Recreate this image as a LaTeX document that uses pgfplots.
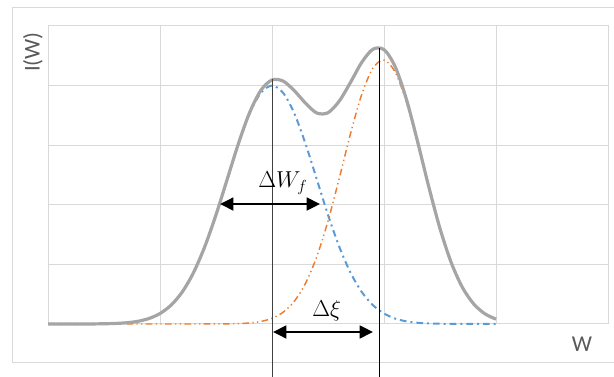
\documentclass[border=0pt]{standalone}
\usepackage{fontspec}
\setmainfont{Carlito}
\usepackage{pgfplots}
\pgfplotsset{compat=1.18}
\usetikzlibrary{arrows.meta}
\definecolor{gridgrey}{HTML}{D9D9D9}
\definecolor{txtgrey}{HTML}{595959}
\definecolor{curvegrey}{HTML}{A5A5A5}
\definecolor{xlblue}{HTML}{5B9BD5}
\definecolor{xlorange}{HTML}{ED7D31}
\begin{document}
\begin{tikzpicture}
\begin{axis}[
  scale only axis, width=420pt, height=223.5pt,
  xmin=0, xmax=5, ymin=0, ymax=5,
  xtick={0,1,2,3,4,5}, ytick={0,1,2,3,4,5},
  xticklabels={}, yticklabels={},
  major tick length=0pt,
  grid=major,
  grid style={gridgrey, line width=0.75pt},
  axis line style={gridgrey, line width=0.75pt},
  clip=false,
]
% outer chart frame
\draw[gridgrey, line width=0.75pt] (axis cs:5.0536,5.31) -- (axis cs:-0.3214,5.31) -- (axis cs:-0.3214,-0.646) -- (axis cs:5.0536,-0.646);
\coordinate (bbl) at (axis cs:-0.4286,-0.8893);
\coordinate (btr) at (axis cs:5.0536,5.4362);

% blue component
\addplot[xlblue, line width=1.5pt, smooth, dash pattern=on 5pt off 3pt on 1.5pt off 3pt] coordinates {
(0.0,0) (0.3,0.0005) (0.4,0.001) (0.5,0.004) (0.6,0.009) (0.7,0.020) (0.8,0.044) (0.9,0.091)
(1.0,0.176) (1.1,0.318) (1.2,0.541) (1.3,0.865) (1.4,1.299) (1.5,1.831) (1.6,2.426) (1.7,3.019)
(1.8,3.530) (1.9,3.877) (2.0,4.000) (2.1,3.877) (2.2,3.530) (2.3,3.019) (2.4,2.426) (2.5,1.831)
(2.6,1.299) (2.7,0.865) (2.8,0.541) (2.9,0.318) (3.0,0.176) (3.1,0.091) (3.2,0.044) (3.3,0.020)
(3.4,0.009) (3.5,0.004) (3.6,0.001) (3.7,0) (3.8,0) (3.9,0) (4.0,0)
};
% orange component
\addplot[xlorange, line width=1.1pt, smooth, dash pattern=on 5pt off 2.5pt on 1pt off 2.5pt on 1pt off 2.5pt] coordinates {
(0.7,0) (0.9,0) (1.1,0) (1.3,0) (1.5,0.0007) (1.6,0.002) (1.7,0.0065) (1.8,0.017) (1.9,0.042)
(2.0,0.095) (2.1,0.198) (2.2,0.383) (2.3,0.685) (2.4,1.131) (2.5,1.728) (2.6,2.440) (2.7,3.186)
(2.8,3.845) (2.9,4.291) (3.0,4.428) (3.1,4.225) (3.2,3.727) (3.3,3.039) (3.4,2.292) (3.5,1.597)
(3.6,1.030) (3.7,0.614) (3.8,0.338) (3.9,0.172) (4.0,0.081)
};
% total
\addplot[curvegrey, line width=2.4pt, smooth] coordinates {
(0.0,0) (0.1,0) (0.2,0) (0.3,0.0005) (0.4,0.001) (0.5,0.004) (0.6,0.009) (0.7,0.020) (0.8,0.044)
(0.9,0.091) (1.0,0.176) (1.1,0.318) (1.2,0.541) (1.3,0.865) (1.4,1.299) (1.5,1.832) (1.6,2.428)
(1.7,3.026) (1.8,3.547) (1.9,3.919) (2.0,4.095) (2.1,4.075) (2.2,3.913) (2.3,3.704) (2.4,3.540)
(2.5,3.545) (2.6,3.739) (2.7,4.051) (2.8,4.386) (2.9,4.609) (3.0,4.604) (3.1,4.316) (3.2,3.771)
(3.3,3.059) (3.4,2.301) (3.5,1.601) (3.6,1.031) (3.7,0.614) (3.8,0.338) (3.9,0.172) (4.0,0.081)
};
% vertical markers
\draw[black!75, line width=0.75pt] (axis cs:2.0,4.11) -- (axis cs:2.0,-0.8893);
\draw[black, line width=0.75pt] (axis cs:2.964,4.63) -- (axis cs:2.964,-0.8893);
% arrows
\draw[{Triangle[length=10pt,width=9.5pt]}-{Triangle[length=10pt,width=9.5pt]}, line width=2pt, black] (axis cs:1.536,2.013) -- (axis cs:2.429,2.013);
\draw[{Triangle[length=10pt,width=9.5pt]}-{Triangle[length=10pt,width=9.5pt]}, line width=2pt, black] (axis cs:2.009,-0.134) -- (axis cs:2.902,-0.134);
\node[anchor=base, inner sep=0pt, font=\fontsize{17}{20}\selectfont] at (axis cs:2.098,2.282) {$\Delta W_f$};
\node[anchor=base, inner sep=0pt, font=\fontsize{17}{20}\selectfont] at (axis cs:2.488,0.122) {$\Delta\xi$};
% axis titles
\node[rotate=90, inner sep=0pt, text=txtgrey, font=\fontsize{17}{20}\selectfont] at (axis cs:-0.134,4.564) {I(W)};
\node[anchor=base, inner sep=0pt, text=txtgrey, font=\fontsize{17}{20}\selectfont] at (axis cs:4.768,-0.465) {W};
\end{axis}
\pgfresetboundingbox
\path[use as bounding box] (bbl) rectangle (btr);
\end{tikzpicture}
\end{document}
